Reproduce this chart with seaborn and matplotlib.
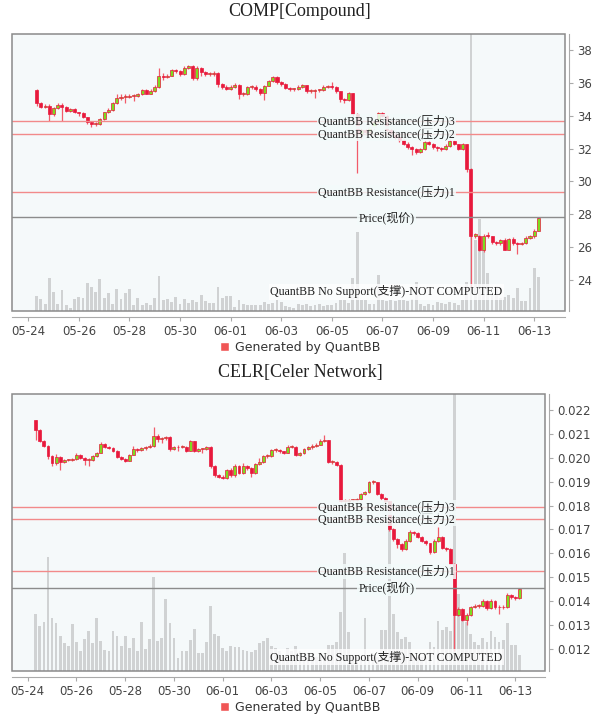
import numpy as np
import pandas as pd
import matplotlib
matplotlib.use('Agg')
import matplotlib.pyplot as plt
import seaborn as sns
from matplotlib.patches import Rectangle, Patch
from matplotlib.transforms import blended_transform_factory

sns.set_style('white')
plt.rcParams['font.family'] = ['DejaVu Sans', 'Noto Sans CJK SC']

# 4h candles, first one at 05-24 08:00
start_time = '2024-05-24 08:00'
tick_days = ['05-24', '05-26', '05-28', '05-30', '06-01', '06-03',
             '06-05', '06-07', '06-09', '06-11', '06-13']

# ---- COMP ----
comp_title = 'COMP[Compound]'
comp_open0 = 35.56
comp_close = [34.75, 34.55, 34.6, 34.1, 34.45, 34.67, 34.55, 34.26, 34.4, 34.2,
              34.14, 33.9, 33.6, 33.5, 33.5, 33.78, 34.2, 34.35, 34.77, 35.1,
              35.15, 35.15, 35.2, 35.2, 35.3, 35.55, 35.35, 35.5, 35.75, 36.45,
              36.37, 36.43, 36.78, 36.74, 36.54, 36.9, 37.04, 36.27, 36.9, 36.64,
              36.54, 36.54, 36.6, 35.93, 35.77, 35.62, 35.77, 35.89, 35.32, 35.32,
              35.72, 35.77, 35.62, 35.36, 35.83, 36.13, 36.33, 36.03, 35.93, 35.68,
              35.62, 35.62, 35.78, 35.88, 35.5, 35.5, 35.55, 35.55, 35.76, 35.78,
              35.73, 35.48, 35.01, 34.95, 35.36, 34.1, 32.9, 33.1, 33.0, 33.3,
              33.6, 34.15, 34.0, 33.1, 32.9, 32.7, 32.5, 32.3, 32.07, 31.97,
              31.77, 31.97, 32.38, 32.3, 32.07, 32.03, 31.97, 32.17, 32.48, 32.28,
              31.97, 32.28, 30.75, 26.7, 26.7, 25.8, 26.7, 26.64, 26.3, 26.23,
              26.4, 25.83, 26.5, 26.23, 26.19, 26.23, 26.55, 26.64, 27.0, 27.77]
comp_high = [35.65, 34.85, 34.7, 34.7, 34.55, 34.8, 34.75, 34.6, 34.45, 34.5,
             34.25, 34.2, 33.95, 33.65, 33.6, 33.85, 34.25, 34.45, 34.85, 35.3,
             35.3, 35.3, 35.3, 35.35, 35.4, 35.65, 35.6, 35.6, 35.85, 36.9,
             36.6, 36.55, 36.85, 36.85, 36.8, 37.0, 37.1, 37.1, 37.0, 36.95,
             36.7, 36.65, 36.7, 36.65, 36.0, 35.85, 35.85, 36.0, 35.95, 35.45,
             35.8, 35.85, 35.85, 35.7, 35.9, 36.2, 36.4, 36.4, 36.1, 36.0,
             35.75, 35.7, 35.85, 35.95, 35.9, 35.6, 35.65, 35.65, 35.85, 35.9,
             36.05, 35.8, 35.5, 35.1, 35.45, 35.4, 34.15, 33.3, 33.2, 33.4,
             33.7, 34.25, 34.2, 34.05, 33.2, 33.0, 32.8, 32.6, 32.4, 32.15,
             32.05, 32.05, 32.45, 32.45, 32.35, 32.15, 32.1, 32.25, 32.6, 32.55,
             32.3, 32.35, 32.3, 30.8, 26.85, 26.75, 26.8, 26.9, 26.7, 26.35,
             26.5, 26.55, 26.55, 26.6, 26.3, 26.3, 26.65, 26.75, 27.1, 27.8]
comp_low = [34.6, 34.45, 34.45, 33.65, 34.0, 34.4, 33.65, 34.2, 34.2, 34.15,
            34.0, 33.85, 33.5, 33.3, 33.35, 33.45, 33.75, 34.15, 34.3, 34.7,
            34.95, 34.75, 35.05, 34.9, 35.15, 35.25, 35.3, 35.3, 35.45, 35.7,
            36.2, 36.3, 36.4, 36.6, 36.45, 36.5, 36.85, 36.2, 36.2, 36.4,
            36.45, 36.4, 36.45, 35.75, 35.65, 35.55, 35.55, 35.7, 35.0, 35.2,
            35.25, 35.65, 35.5, 35.25, 34.95, 35.8, 36.05, 35.95, 35.8, 35.6,
            35.5, 35.5, 35.55, 35.7, 35.4, 35.4, 35.1, 35.45, 35.5, 35.7,
            35.65, 35.4, 34.85, 34.8, 34.9, 34.0, 30.5, 32.6, 32.8, 32.9,
            33.2, 33.55, 33.9, 33.0, 32.8, 32.6, 32.4, 32.2, 31.95, 31.6,
            31.65, 31.7, 31.9, 32.2, 31.95, 31.85, 31.85, 31.9, 32.1, 32.2,
            31.9, 31.9, 30.6, 23.55, 26.55, 25.75, 25.7, 26.55, 26.2, 26.15,
            26.15, 25.8, 25.8, 26.15, 25.6, 26.1, 26.2, 26.5, 26.55, 26.95]
comp_vol = [15, 12, 7, 33, 19, 7, 21, 6, 3, 12,
            14, 13, 28, 24, 19, 32, 13, 18, 7, 22,
            12, 18, 22, 6, 13, 6, 8, 6, 13, 35,
            11, 12, 9, 14, 7, 12, 8, 11, 9, 16,
            10, 8, 8, 24, 13, 15, 15, 4, 11, 7,
            6, 6, 6, 6, 9, 7, 8, 11, 9, 5,
            4, 3, 7, 6, 7, 5, 6, 7, 5, 6,
            6, 8, 11, 11, 8, 33, 79, 11, 11, 7,
            7, 36, 11, 10, 11, 10, 11, 11, 10, 12,
            29, 7, 5, 7, 6, 9, 8, 7, 9, 8,
            6, 11, 29, 277, 71, 92, 61, 38, 16, 25,
            13, 14, 16, 13, 23, 10, 10, 23, 43, 34]
comp_resist = [29.33, 32.91, 33.67]
comp_price = 27.8
comp_yticks = [24, 26, 28, 30, 32, 34, 36, 38]

# ---- CELR ----
celr_title = 'CELR[Celer Network]'
celr_open0 = 0.02158
celr_close = [0.02116, 0.02072, 0.02050, 0.02009, 0.01976, 0.02004, 0.01983, 0.01990, 0.01990, 0.01993,
              0.02013, 0.01999, 0.01992, 0.01992, 0.02009, 0.02022, 0.02057, 0.02046, 0.02040, 0.02029,
              0.02004, 0.01995, 0.01988, 0.02013, 0.02036, 0.02032, 0.02039, 0.02043, 0.02050, 0.02092,
              0.02078, 0.02083, 0.02086, 0.02036, 0.02043, 0.02046, 0.02046, 0.02030, 0.02069, 0.02030,
              0.02036, 0.02036, 0.02046, 0.01964, 0.01927, 0.01921, 0.01915, 0.01948, 0.01927, 0.01966,
              0.01936, 0.01966, 0.01956, 0.01936, 0.01974, 0.01983, 0.02006, 0.02006, 0.02032, 0.02032,
              0.02027, 0.02022, 0.02046, 0.02046, 0.02013, 0.02018, 0.02036, 0.02043, 0.02050, 0.02055,
              0.02071, 0.02074, 0.01981, 0.01983, 0.01971, 0.01820, 0.01820, 0.01823, 0.01823, 0.01827,
              0.01848, 0.01855, 0.01897, 0.01897, 0.01848, 0.01831, 0.01817, 0.01701, 0.01659, 0.01638,
              0.01618, 0.01652, 0.01690, 0.01683, 0.01669, 0.01652, 0.01641, 0.01604, 0.01652, 0.01669,
              0.01622, 0.01618, 0.01555, 0.01342, 0.01366, 0.01321, 0.01342, 0.01373, 0.01380, 0.01380,
              0.01401, 0.01370, 0.01401, 0.01373, 0.01377, 0.01373, 0.01426, 0.01418, 0.01412, 0.01450]
celr_high = [0.02160, 0.02120, 0.02075, 0.02053, 0.02013, 0.02015, 0.02008, 0.01995, 0.01995, 0.01998,
             0.02018, 0.02016, 0.02002, 0.01998, 0.02012, 0.02026, 0.02068, 0.02060, 0.02050, 0.02043,
             0.02032, 0.02008, 0.01999, 0.02017, 0.02050, 0.02040, 0.02045, 0.02048, 0.02058, 0.02130,
             0.02098, 0.02089, 0.02093, 0.02090, 0.02049, 0.02052, 0.02053, 0.02050, 0.02074, 0.02072,
             0.02041, 0.02042, 0.02050, 0.02048, 0.01968, 0.01932, 0.01926, 0.01954, 0.01958, 0.01973,
             0.01970, 0.01978, 0.01970, 0.01960, 0.01979, 0.01998, 0.02010, 0.02014, 0.02038, 0.02040,
             0.02036, 0.02030, 0.02052, 0.02053, 0.02050, 0.02024, 0.02042, 0.02049, 0.02056, 0.02061,
             0.02078, 0.02096, 0.02076, 0.01990, 0.01986, 0.01973, 0.01826, 0.01829, 0.01828, 0.01833,
             0.01853, 0.01860, 0.01903, 0.01905, 0.01900, 0.01852, 0.01835, 0.01820, 0.01704, 0.01663,
             0.01642, 0.01658, 0.01696, 0.01695, 0.01688, 0.01673, 0.01656, 0.01645, 0.01658, 0.01709,
             0.01673, 0.01628, 0.01620, 0.01558, 0.01375, 0.01370, 0.01350, 0.01379, 0.01386, 0.01386,
             0.01408, 0.01405, 0.01407, 0.01406, 0.01384, 0.01382, 0.01432, 0.01430, 0.01422, 0.01456]
celr_low = [0.02075, 0.02065, 0.02045, 0.01995, 0.01965, 0.01970, 0.01950, 0.01979, 0.01985, 0.01985,
            0.01990, 0.01995, 0.01970, 0.01965, 0.01988, 0.02005, 0.02020, 0.02040, 0.02035, 0.02024,
            0.02000, 0.01989, 0.01983, 0.01985, 0.02010, 0.02026, 0.02028, 0.02032, 0.02040, 0.02045,
            0.02065, 0.02062, 0.02075, 0.02030, 0.02032, 0.02030, 0.02040, 0.02024, 0.02028, 0.02025,
            0.02026, 0.02018, 0.02032, 0.01958, 0.01920, 0.01915, 0.01910, 0.01912, 0.01920, 0.01918,
            0.01930, 0.01932, 0.01948, 0.01918, 0.01932, 0.01970, 0.01980, 0.02000, 0.02003, 0.02025,
            0.02020, 0.02016, 0.02020, 0.02040, 0.02006, 0.02009, 0.02015, 0.02032, 0.02038, 0.02046,
            0.02052, 0.02066, 0.01976, 0.01972, 0.01966, 0.01816, 0.01814, 0.01816, 0.01818, 0.01820,
            0.01824, 0.01843, 0.01852, 0.01889, 0.01843, 0.01825, 0.01810, 0.01695, 0.01652, 0.01620,
            0.01610, 0.01615, 0.01648, 0.01676, 0.01663, 0.01646, 0.01635, 0.01598, 0.01600, 0.01648,
            0.01616, 0.01610, 0.01550, 0.01190, 0.01336, 0.01315, 0.01300, 0.01338, 0.01369, 0.01372,
            0.01376, 0.01364, 0.01367, 0.01366, 0.01345, 0.01368, 0.01370, 0.01410, 0.01404, 0.01409]
celr_vol = [57, 45, 49, 114, 53, 48, 35, 28, 25, 47,
            29, 20, 32, 40, 28, 53, 30, 21, 20, 40,
            35, 25, 35, 23, 33, 20, 49, 22, 32, 94,
            30, 33, 72, 48, 33, 13, 20, 20, 31, 42,
            18, 18, 29, 65, 37, 35, 23, 20, 25, 24,
            24, 21, 20, 19, 21, 28, 30, 33, 25, 23,
            20, 15, 23, 20, 25, 20, 14, 13, 14, 14,
            14, 15, 26, 26, 29, 59, 118, 39, 14, 14,
            14, 53, 14, 14, 14, 41, 41, 153, 57, 39,
            32, 34, 29, 14, 14, 14, 14, 29, 24, 50,
            41, 44, 40, 277, 77, 57, 49, 37, 29, 26,
            33, 29, 40, 34, 29, 31, 48, 26, 26, 16]
celr_resist = [0.01525, 0.01745, 0.01793]
celr_price = 0.01453
celr_yticks = [0.012, 0.013, 0.014, 0.015, 0.016, 0.017, 0.018, 0.019, 0.020, 0.021, 0.022]

W, H = 600, 720
BG = '#f5f9fa'
UP, DOWN, WICK = '#7ddc1f', '#e8193c', '#f25a6a'
LABEL_FONT = ['Liberation Serif', 'Noto Sans CJK SC']

fig = plt.figure(figsize=(W / 100, H / 100), dpi=100)
t0 = pd.Timestamp(start_time)


def panel(box, title_y, legend_y, ns_y, title, open0, close, high, low, vol,
          resist, price, ylim, yticks, fmt, min_body):
    l, t, r, b = box
    ax = fig.add_axes([l / W, 1 - b / H, (r - l) / W, (b - t) / H])
    ax.set_facecolor(BG)
    n = len(close)
    df = pd.DataFrame({'i': np.arange(n), 'vol': vol})
    # volume bars underneath the candles
    sns.barplot(data=df, x='i', y='vol', native_scale=True, width=0.68,
                color='#d0d2d3', saturation=1, errorbar=None, linewidth=0,
                ax=ax, zorder=1)
    ax.set_ylim(0, max(vol))
    ax.set_xlabel('')
    ax.set_ylabel('')

    pax = ax.twinx()
    ax.set_yticks([])
    x = np.arange(n)
    c = np.array(close)
    o = np.r_[open0, c[:-1]]
    up = c >= o
    pax.vlines(x, low, high, color=WICK, lw=0.9, zorder=2)
    body = np.abs(c - o)
    body = np.where(body < min_body, min_body, body)
    bottom = np.minimum(o, c)
    pax.bar(x[up], body[up], bottom=bottom[up], width=0.72, color=UP,
            edgecolor=DOWN, linewidth=0.5, zorder=3)
    pax.bar(x[~up], body[~up], bottom=bottom[~up], width=0.72, color=DOWN,
            edgecolor=DOWN, linewidth=0.5, zorder=3)

    for lv in resist:
        pax.axhline(lv, color='#f28a8a', lw=1, zorder=4)
    pax.axhline(price, color='#8c8c8c', lw=1, zorder=4)

    # labels sit at a fixed pixel column
    tr = blended_transform_factory(fig.transFigure, pax.transData)
    lx = 386.5 / W
    box_kw = dict(boxstyle='square,pad=0.1', fc='#f3fbfb', ec='none', alpha=0.85)
    for k, lv in enumerate(resist, start=1):
        pax.text(lx, lv, f'QuantBB Resistance(压力){k}', transform=tr,
                 ha='center', va='center', fontsize=8.6, color='#222',
                 family=LABEL_FONT, bbox=box_kw, zorder=6)
    pax.text(lx, price, 'Price(现价)', transform=tr, ha='center', va='center',
             fontsize=8.6, color='#222', family=LABEL_FONT, bbox=box_kw, zorder=6)
    tr2 = blended_transform_factory(fig.transFigure, pax.transAxes)
    pax.text(lx, ns_y, 'QuantBB No Support(支撑)-NOT COMPUTED', transform=tr2,
             ha='center', va='center', fontsize=8.6, color='#222', family=LABEL_FONT,
             bbox=dict(boxstyle='square,pad=0.15', fc='#ffffff', ec='none', alpha=0.8),
             zorder=6)

    pax.set_ylim(*ylim)
    pax.set_yticks(yticks)
    pax.set_yticklabels([fmt.format(v) for v in yticks])
    pax.tick_params(axis='y', left=False, right=True, length=3, width=0.8, color='#aaa',
                    labelsize=8.5, labelcolor='#444', pad=3)
    for s in ['left', 'top', 'bottom']:
        pax.spines[s].set_visible(False)
    pax.spines['right'].set_position(('outward', 3))
    pax.spines['right'].set_color('#aaa')

    tick_pos = [(pd.Timestamp('2024-' + d) - t0) / pd.Timedelta('4h') for d in tick_days]
    ax.set_xticks(tick_pos)
    ax.set_xticklabels(tick_days)
    ax.set_xlim(-5.85, 125.3)
    ax.tick_params(axis='x', bottom=True, length=3, width=0.8, color='#aaa',
                   labelsize=8.5, labelcolor='#444', pad=3)
    ax.tick_params(axis='y', left=False, right=False, labelleft=False)
    for s in ['left', 'top', 'right']:
        ax.spines[s].set_visible(False)
    ax.spines['bottom'].set_position(('outward', 4))
    ax.spines['bottom'].set_color('#aaa')

    pax.add_patch(Rectangle((0, 0), 1, 1, transform=pax.transAxes, fill=False,
                            ec='#8a8a8a', lw=1.1, zorder=10, clip_on=False))

    fig.text(0.5, 1 - title_y / H, title, ha='center', va='center',
             fontsize=13, color='#222', family=LABEL_FONT)
    ax.legend(handles=[Patch(facecolor='#f05656')], labels=['Generated by QuantBB'],
              loc='center', bbox_to_anchor=(0.5, 1 - legend_y / H),
              bbox_transform=fig.transFigure, frameon=False, fontsize=9,
              handlelength=0.7, handleheight=0.7, handletextpad=0.5,
              labelcolor='#333')


panel((12, 34, 565, 311), 12, 347, 0.069, comp_title, comp_open0, comp_close, comp_high,
      comp_low, comp_vol, comp_resist, comp_price, (22.1, 38.98), comp_yticks,
      '{:.0f}', 0.07)
panel((12, 394, 545, 671), 372, 707, 0.05, celr_title, celr_open0, celr_close, celr_high,
      celr_low, celr_vol, celr_resist, celr_price, (0.01107, 0.02267), celr_yticks,
      '{:.3f}', 0.00004)

fig.savefig('out.png', dpi=100)
